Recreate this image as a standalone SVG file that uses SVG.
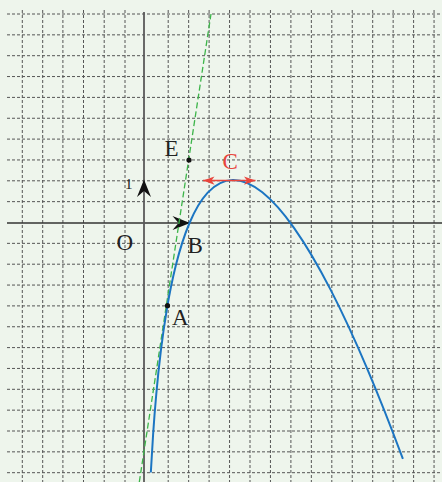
<svg xmlns="http://www.w3.org/2000/svg" width="442" height="482" viewBox="0 0 442 482">
<style>
.grid{fill:none;stroke:#555;stroke-width:1;stroke-dasharray:3 2}
.lbl{font-family:"Liberation Serif","Times New Roman",serif;font-size:23px;fill:#222}
.pt{fill:#111}
</style>
<defs>
<path id="stealth" d="M0,0 L-17.5,-7 L-11.5,0 L-17.5,7 Z" fill="#111"/>
<marker id="redhead" viewBox="-12 -5 13 10" refX="0" refY="0" markerWidth="13" markerHeight="10" markerUnits="userSpaceOnUse" orient="auto-start-reverse">
<path d="M0,0 L-11.5,-4.2 L-8.5,0 L-11.5,4.2 Z" fill="#e8453c"/>
</marker>
</defs>
<rect x="0" y="0" width="442" height="482" fill="#eef5ec"/>
<g id="grid" class="grid">
<path d="M7,14H442M7,34.85H442M7,55.7H442M7,76.55H442M7,97.4H442M7,118.25H442M7,139.1H442M7,159.95H442M7,180.8H442M7,201.65H442M7,243.35H442M7,264.2H442M7,285.05H442M7,305.9H442M7,326.75H442M7,347.6H442M7,368.45H442M7,389.3H442M7,410.15H442M7,431H442M7,451.85H442M7,472.7H442"/>
<path d="M22.3,10V482M42.7,10V482M62.9,10V482M83.5,10V482M104.2,10V482M125,10V482M168.2,10V482M188.65,10V482M209.1,10V482M229.55,10V482M250,10V482M270.45,10V482M290.9,10V482M311.35,10V482M331.8,10V482M352.25,10V482M372.7,10V482M393.15,10V482M413.6,10V482M434.05,10V482"/>
</g>
<g id="axes">
<path d="M7,223H442" fill="none" stroke="#333" stroke-width="1.3"/>
<path d="M144,12V482" fill="none" stroke="#5a5a5a" stroke-width="1.8"/>
<use href="#stealth" transform="translate(144,179.5) rotate(-90)"/>
<use href="#stealth" transform="translate(190,223)"/>
</g>
<g id="tangent">
<path d="M139.3,482L211,14" fill="none" stroke="#3db54a" stroke-width="1.3" stroke-dasharray="6 3"/>
</g>
<g id="curve">
<path fill="none" stroke="#1c75c2" stroke-width="2" d="M150.83,472.44C151.58,457.95 152.34,445.6 153.1,434.48C154.16,418.92 155.22,405.78 156.29,394.03C157.8,377.24 159.32,363.31 160.84,350.95C162.81,334.89 164.78,321.56 166.75,309.82C169.78,291.76 172.82,277.5 175.85,265.35C180.4,247.13 184.95,233.73 189.5,223C195.57,208.7 201.63,199.25 207.7,192.67C216.04,183.63 224.38,180.1 232.73,179.95C242.58,179.78 252.44,184.41 262.3,192.28C272.92,200.75 283.53,213.02 294.15,228.05C306.28,245.23 318.42,266.04 330.55,289.61C342.68,313.18 354.82,339.51 366.95,368.08C378.93,396.29 390.91,426.72 402.9,458.93"/>
</g>
<g id="point-C">
<path d="M203,180.6H255.5" fill="none" stroke="#e8453c" stroke-width="1.5" marker-start="url(#redhead)" marker-end="url(#redhead)"/>
<text class="lbl" x="222.5" y="169" style="fill:#e8453c">C</text>
</g>
<g id="point-E">
<circle class="pt" cx="189" cy="160" r="2.6"/>
<text class="lbl" x="164.5" y="156">E</text>
</g>
<g id="point-A">
<circle class="pt" cx="167.5" cy="305.7" r="2.6"/>
<text class="lbl" x="172" y="325">A</text>
</g>
<g id="point-B">
<text class="lbl" x="187.5" y="253">B</text>
</g>
<g id="origin">
<text class="lbl" x="116.5" y="249.5">O</text>
<text class="lbl" x="125" y="189" style="font-size:15px">1</text>
</g>
</svg>
